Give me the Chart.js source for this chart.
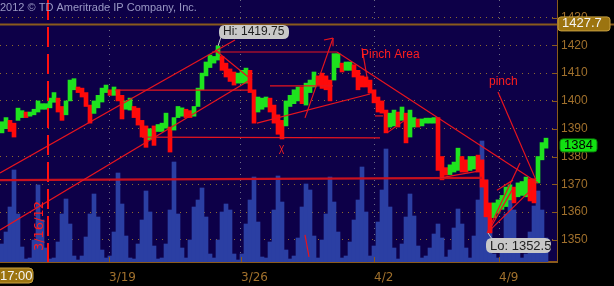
<!DOCTYPE html>
<html>
<head>
<meta charset="utf-8">
<script src="https://cdn.jsdelivr.net/npm/chart.js@4.4.1/dist/chart.umd.min.js"></script>
<style>
  html, body { margin: 0; padding: 0; background: #000; }
  #wrap { width: 614px; height: 286px; }
</style>
</head>
<body>
<div id="wrap"><canvas id="es-chart" width="614" height="286"></canvas></div>
<script>
// one bar = roughly an hour of trading
var priceHigh = [
  1392.5, 1394, 1393, 1392, 1397.4, 1396.5, 1396, 1396, 1397, 1400,
  1399, 1399, 1401, 1403, 1401, 1398, 1400, 1407.5, 1408, 1405,
  1404.6, 1403, 1398.5, 1400, 1402, 1404.6, 1405.7, 1404, 1405, 1404,
  1402, 1400, 1401, 1398, 1397.4, 1393, 1391, 1390, 1391, 1391.5,
  1392, 1395.6, 1390.6, 1394, 1398, 1397.5, 1397, 1396.5, 1398, 1404.6,
  1410, 1414, 1416.5, 1416, 1419.75, 1416, 1413.6, 1411.5, 1410.4, 1410,
  1411, 1411.8, 1411, 1404, 1401.4, 1401, 1401.4, 1401, 1398.5, 1395,
  1393, 1400, 1402, 1404, 1405, 1405, 1406.4, 1407.5, 1410.4, 1409,
  1410, 1409, 1407.5, 1417, 1417, 1413.6, 1414, 1414, 1413, 1411,
  1409, 1408.6, 1407.5, 1404, 1401.4, 1400, 1396.7, 1395.6, 1396.7, 1396,
  1397.8, 1395.6, 1396.7, 1394, 1393.5, 1393.5, 1393.8, 1393.8, 1394, 1394,
  1380, 1376, 1377, 1378, 1383, 1380, 1378.8, 1380, 1380, 1380.5,
  1378.8, 1371.6, 1363.3, 1363.3, 1364.4, 1366, 1369, 1369.8, 1369, 1370.5,
  1371, 1372.6, 1372, 1372, 1380, 1385, 1386.6
];
var priceLow = [
  1388.5, 1390, 1389, 1387, 1393, 1394, 1394, 1394.5, 1395, 1396,
  1397, 1397, 1397.5, 1399.5, 1396, 1393, 1395, 1400, 1404, 1403,
  1401.4, 1398, 1392, 1395.5, 1397.5, 1399.6, 1403, 1402, 1402, 1400,
  1393.5, 1397, 1396.7, 1394, 1391.3, 1387, 1383.3, 1386, 1384, 1389,
  1389, 1390.2, 1381.6, 1389.5, 1394, 1394.5, 1394, 1394, 1394.5, 1398,
  1404, 1409, 1412, 1413.6, 1414.7, 1411, 1408.6, 1407, 1405.7, 1406.4,
  1406.4, 1406.4, 1403, 1392, 1396, 1397, 1397.8, 1396, 1392, 1388,
  1386.3, 1391, 1398, 1399, 1400, 1399, 1398.5, 1403, 1405, 1405.7,
  1404.5, 1404, 1400, 1407.5, 1412, 1410.4, 1411, 1411, 1408.6, 1404,
  1405, 1405, 1402.8, 1399.3, 1396, 1395.6, 1388.5, 1390.6, 1391, 1390.6,
  1393, 1384.9, 1387, 1390.6, 1390.6, 1391, 1392, 1392, 1392, 1375,
  1371.6, 1373.3, 1373.5, 1374.4, 1375, 1374.4, 1374.4, 1375, 1375.5, 1374.4,
  1369, 1358.3, 1352.5, 1358, 1359.6, 1361, 1362, 1364.4, 1363.3, 1365.5,
  1366, 1365.5, 1364, 1363.3, 1370.5, 1378.8, 1383
];
var volume = [
  18, 30, 55, 92, 48, 15, 3, 4, 22, 77,
  42, 14, 3, 4, 20, 48, 63, 38, 6, 2,
  6, 25, 48, 68, 45, 12, 4, 6, 30, 89,
  58, 26, 4, 3, 18, 42, 71, 50, 16, 3,
  4, 18, 52, 100, 48, 14, 4, 22, 55, 62,
  74, 45, 8, 4, 22, 50, 58, 52, 8, 2,
  8, 38, 62, 85, 40, 5, 4, 20, 52, 86,
  60, 12, 3, 6, 24, 55, 78, 72, 26, 4,
  22, 48, 85, 60, 30, 4, 6, 20, 42, 62,
  95, 50, 6, 16, 40, 72, 113, 55, 14, 3,
  18, 45, 68, 46, 16, 4, 6, 14, 28, 38,
  24, 5, 12, 34, 53, 38, 14, 4, 26, 62,
  121, 82, 34, 8, 4, 20, 48, 74, 52, 16,
  4, 8, 30, 56, 71, 52, 24
];

var priceTicks = [1350, 1360, 1370, 1380, 1390, 1400, 1410, 1420, 1430];
var weekTickPos = [26.75, 59.75, 93, 124.25];
var weekLabels = ['3/19', '3/26', '4/2', '4/9'];

var hiValue = 1419.75, hiIndex = 54;
var loValue = 1352.5, loIndex = 122;
var lastPrice = 1384;
var priorHigh = 1427.7;
var sessionMark = 11.5;   // 3/16/12 17:00

// hand drawn study lines, [bar, price] pairs
var trendLines = [
  [[-0.5, 1374.1], [58.25, 1421.9]],
  [[-0.5, 1353.6], [62, 1407.5]],
  [[53.25, 1418.3], [62.5, 1407.5]],
  [[28.25, 1403.9], [62, 1403.9]],
  [[52.5, 1417.6], [83.75, 1417.6]],
  [[83.75, 1417.6], [134, 1370.5]],
  [[35, 1387.0], [94.5, 1386.7]],
  [[63.75, 1392.0], [92, 1402.5]],
  [[67, 1405.4], [82.75, 1405.4]],
  [[75.75, 1393.9], [82.75, 1422.6]],
  [[82.75, 1422.6], [80.5, 1421.9]],
  [[82.75, 1422.6], [82.75, 1419.7]],
  [[90, 1419.0], [91.25, 1408.6]],
  [[124, 1403.2], [133.5, 1371.5]],
  [[121.25, 1352.5], [129.5, 1377.7]],
  [[121.5, 1352.8], [132.75, 1368.7]],
  [[121.5, 1352.8], [127.5, 1367.9]],
  [[123.75, 1367.9], [127.75, 1371.5]],
  [[96.25, 1388.5], [100.75, 1393.1]],
  [[109.5, 1372.3], [119.5, 1374.8]],
  [[93.25, 1394.6], [95.25, 1394.6]],
  [[75.75, 1351.8], [76.75, 1343.9]]
];
var supportLine = [[-0.5, 1371.5], [120, 1372.3]];

var notes = [
  { text: 'Pinch Area', x: 89.75, y: 1416.5 },
  { text: 'pinch', x: 121.75, y: 1406.8 },
  { text: 'X', x: 69.2, y: 1382.3 }
];

var UP = '#1ee31e', DOWN = '#ff0a0a', PEN = '#e8141e';
var AXIS = '#8a5a1c', LABEL = '#a0702c';

var barColors = priceHigh.map(function (h, i) {
  if (i === 0) return UP;
  var mid = (h + priceLow[i]) / 2;
  var prev = (priceHigh[i - 1] + priceLow[i - 1]) / 2;
  return mid >= prev ? UP : DOWN;
});

function roundBox(ctx, x, y, w, h, r) {
  ctx.beginPath();
  ctx.moveTo(x + r, y);
  ctx.lineTo(x + w - r, y);
  ctx.quadraticCurveTo(x + w, y, x + w, y + r);
  ctx.lineTo(x + w, y + h - r);
  ctx.quadraticCurveTo(x + w, y + h, x + w - r, y + h);
  ctx.lineTo(x + r, y + h);
  ctx.quadraticCurveTo(x, y + h, x, y + h - r);
  ctx.lineTo(x, y + r);
  ctx.quadraticCurveTo(x, y, x + r, y);
  ctx.closePath();
}

var overlay = {
  id: 'overlay',
  beforeDraw: function (chart) {
    var ctx = chart.ctx, a = chart.chartArea;
    ctx.save();
    ctx.fillStyle = '#000';
    ctx.fillRect(0, 0, chart.width, chart.height);
    ctx.fillStyle = '#0d0048';
    ctx.fillRect(a.left, a.top, a.right - a.left, a.bottom - a.top);
    ctx.restore();
  },
  afterDatasetsDraw: function (chart) {
    var ctx = chart.ctx, a = chart.chartArea;
    var xs = chart.scales.x, ys = chart.scales.y;
    ctx.save();

    // prior high line
    var py = Math.round(ys.getPixelForValue(priorHigh)) + 0.5;
    ctx.strokeStyle = AXIS;
    ctx.lineWidth = 2;
    ctx.beginPath();
    ctx.moveTo(a.left, py);
    ctx.lineTo(chart.width, py);
    ctx.stroke();

    // session marker
    var mx = Math.round(xs.getPixelForValue(sessionMark));
    ctx.strokeStyle = '#ff1010';
    ctx.lineWidth = 2;
    ctx.setLineDash([20, 7]);
    ctx.beginPath();
    ctx.moveTo(mx, a.top);
    ctx.lineTo(mx, a.bottom);
    ctx.stroke();
    ctx.setLineDash([]);

    ctx.save();
    ctx.translate(mx - 8, a.bottom - 36);
    ctx.rotate(-Math.PI / 2);
    ctx.fillStyle = '#ff1a1a';
    ctx.font = '13px "DejaVu Sans"';
    ctx.textAlign = 'center';
    ctx.textBaseline = 'middle';
    ctx.fillText('3/16/12', 0, 0);
    ctx.restore();

    // axis tick marks drawn inward
    ctx.strokeStyle = AXIS;
    ctx.lineWidth = 1;
    priceTicks.forEach(function (v) {
      var y = Math.round(ys.getPixelForValue(v)) + 0.5;
      ctx.beginPath();
      ctx.moveTo(a.right - 5, y);
      ctx.lineTo(a.right, y);
      ctx.stroke();
    });
    weekTickPos.forEach(function (v) {
      var x = Math.round(xs.getPixelForValue(v)) + 0.5;
      ctx.beginPath();
      ctx.moveTo(x, a.bottom - 5);
      ctx.lineTo(x, a.bottom);
      ctx.stroke();
    });

    // notes
    ctx.fillStyle = '#ff1e1e';
    ctx.font = '12px "Liberation Sans"';
    ctx.textBaseline = 'middle';
    ctx.textAlign = 'left';
    notes.forEach(function (n) {
      var x = xs.getPixelForValue(n.x), y = ys.getPixelForValue(n.y);
      if (n.text === 'X') {
        ctx.save();
        ctx.translate(x, y);
        ctx.scale(0.7, 1.1);
        ctx.fillText(n.text, 0, 0);
        ctx.restore();
      } else {
        ctx.fillText(n.text, x, y);
      }
    });
    ctx.restore();
  },
  afterDraw: function (chart) {
    var ctx = chart.ctx, a = chart.chartArea;
    var xs = chart.scales.x, ys = chart.scales.y;
    ctx.save();
    ctx.textBaseline = 'middle';
    ctx.textAlign = 'left';

    // copyright
    ctx.fillStyle = '#9a98c4';
    ctx.font = '11px "Liberation Sans"';
    ctx.fillText('2012 \u00a9 TD Ameritrade IP Company, Inc.', 0, 8);

    // hi / lo bubbles
    ctx.font = '12px "Liberation Sans"';
    var hx = xs.getPixelForValue(hiIndex), hy = ys.getPixelForValue(hiValue);
    ctx.strokeStyle = '#c8c8c8';
    ctx.lineWidth = 1;
    ctx.beginPath();
    ctx.moveTo(hx, hy);
    ctx.lineTo(hx + 3, hy - 9);
    ctx.stroke();
    roundBox(ctx, hx + 1, hy - 21, 70, 14, 6);
    ctx.fillStyle = '#c8c8c8';
    ctx.fill();
    ctx.fillStyle = '#1e1e1e';
    ctx.fillText('Hi: ' + hiValue.toFixed(2), hx + 5, hy - 14);

    var lx = xs.getPixelForValue(loIndex), ly = ys.getPixelForValue(loValue);
    ctx.beginPath();
    ctx.moveTo(lx - 2, ly);
    ctx.lineTo(lx + 2, ly + 6);
    ctx.stroke();
    roundBox(ctx, lx - 4, ly + 5, 65, 15, 6);
    ctx.fillStyle = '#c8c8c8';
    ctx.fill();
    ctx.fillStyle = '#1e1e1e';
    ctx.font = '13px "Liberation Sans"';
    ctx.fillText('Lo: ' + loValue.toFixed(1), lx, ly + 13);

    // price badges on the axis
    var by = ys.getPixelForValue(priorHigh);
    roundBox(ctx, a.right + 1, by - 7, 52, 14, 3);
    ctx.fillStyle = '#9c7410';
    ctx.fill();
    ctx.strokeStyle = '#c8a040';
    ctx.stroke();
    ctx.fillStyle = '#f4f4f4';
    ctx.fillText(priorHigh.toFixed(1), a.right + 5, by);

    var gy = ys.getPixelForValue(lastPrice);
    roundBox(ctx, a.right + 3, gy - 6.5, 37, 13, 3);
    ctx.fillStyle = '#12e012';
    ctx.fill();
    ctx.strokeStyle = '#0a800a';
    ctx.stroke();
    ctx.fillStyle = '#000';
    ctx.fillText(String(lastPrice), a.right + 7, gy);

    // time badge
    roundBox(ctx, -4, a.bottom + 6, 37, 15, 4);
    ctx.fillStyle = '#9c7410';
    ctx.fill();
    ctx.strokeStyle = '#c8a040';
    ctx.stroke();
    ctx.fillStyle = '#f4f4f4';
    ctx.fillText('17:00', 0, a.bottom + 14);
    ctx.restore();
  }
};

var lineSets = trendLines.map(function (seg) {
  return {
    type: 'line',
    data: seg.map(function (p) { return { x: p[0], y: p[1] }; }),
    borderColor: PEN,
    borderWidth: 1.2,
    pointRadius: 0,
    yAxisID: 'y',
    order: 1
  };
});
lineSets.push({
  type: 'line',
  data: supportLine.map(function (p) { return { x: p[0], y: p[1] }; }),
  borderColor: '#c8101e',
  borderWidth: 2.2,
  pointRadius: 0,
  yAxisID: 'y',
  order: 1
});

var ctx = document.getElementById('es-chart').getContext('2d');
var esChart = new Chart(ctx, {
  type: 'bar',
  data: {
    datasets: [
      {
        label: 'Volume',
        data: volume.map(function (v, i) { return { x: i, y: v }; }),
        backgroundColor: '#2b3fa3',
        barThickness: 4,
        grouped: false,
        borderWidth: 0,
        yAxisID: 'vol',
        order: 3
      },
      {
        label: '/ES',
        data: priceHigh.map(function (h, i) { return { x: i, y: [priceLow[i], h] }; }),
        backgroundColor: barColors,
        barThickness: 4,
        grouped: false,
        borderWidth: 0,
        yAxisID: 'y',
        order: 2
      }
    ].concat(lineSets)
  },
  options: {
    responsive: false,
    animation: false,
    events: [],
    layout: { padding: 0 },
    plugins: { legend: { display: false }, tooltip: { enabled: false } },
    scales: {
      x: {
        type: 'linear',
        min: -0.5,
        max: 138.75,
        offset: false,
        afterBuildTicks: function (axis) {
          axis.ticks = weekTickPos.map(function (v) { return { value: v }; });
        },
        afterFit: function (scale) {
          scale.height = 24;
          scale.paddingLeft = 0;
          scale.paddingRight = 0;
        },
        grid: { color: '#6e6e86', drawTicks: false, offset: false },
        border: { display: true, color: AXIS, width: 2, dash: [1, 5] },
        ticks: {
          autoSkip: false,
          maxRotation: 0,
          align: 'start',
          padding: 9,
          color: LABEL,
          font: { family: 'DejaVu Sans', size: 12 },
          callback: function (value, i) { return weekLabels[i]; }
        }
      },
      y: {
        position: 'right',
        min: 1342.05,
        max: 1436.3,
        afterBuildTicks: function (axis) {
          axis.ticks = priceTicks.map(function (v) { return { value: v }; });
        },
        afterFit: function (scale) {
          scale.width = 57;
          scale.paddingTop = 0;
          scale.paddingBottom = 0;
        },
        grid: { color: '#8c6a2e', drawTicks: false },
        border: { display: true, color: AXIS, width: 1, dash: [1, 5] },
        ticks: {
          autoSkip: false,
          padding: 4,
          color: LABEL,
          font: { family: 'Liberation Sans', size: 12 },
          callback: function (value) { return String(value); }
        }
      },
      vol: {
        display: false,
        min: 0,
        max: 262
      }
    }
  },
  plugins: [overlay]
});
</script>
</body>
</html>
